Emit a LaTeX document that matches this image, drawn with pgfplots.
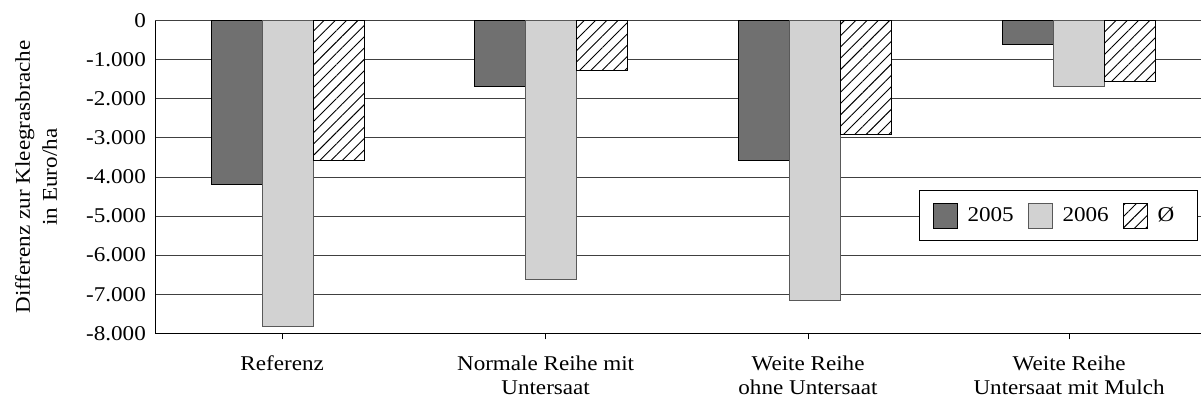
\documentclass[border=0pt]{standalone}
\usepackage{fontspec}
\setmainfont{Liberation Serif}[FakeStretch=1.1]
\usepackage{pgfplots}
\pgfplotsset{compat=1.18}
\usetikzlibrary{patterns.meta}
\definecolor{darkbar}{HTML}{707070}
\definecolor{lightbar}{HTML}{D2D2D2}
\definecolor{gridc}{HTML}{404040}
\begin{document}
\fontsize{21bp}{25bp}\selectfont
\begin{tikzpicture}[x=1bp,y=1bp]
\path[use as bounding box] (0,0) rectangle (1201,401);
\begin{axis}[
  at={(155bp,67.7bp)}, anchor=south west,
  scale only axis, width=1046bp, height=312.6bp,
  xmin=-0.503, xmax=3.463, ymin=-8000, ymax=0,
  axis x line*=bottom, axis y line*=left,
  axis line style={black, line width=1bp},
  xtick={-0.021,0.978,1.973,2.963},
  xticklabels={Referenz, {Normale Reihe mit\\Untersaat}, {Weite Reihe\\ohne Untersaat}, {Weite Reihe\\Untersaat mit Mulch}},
  xticklabel style={align=center, font=\fontsize{21bp}{24.5bp}\selectfont, yshift=-9bp},
  x tick style={black, line width=1bp},
  major tick length=6bp,
  xtick pos=bottom,
  ytick={-8000,-7000,...,0},
  yticklabels={-8.000,-7.000,-6.000,-5.000,-4.000,-3.000,-2.000,-1.000,0},
  y tick style={draw=none},
  yticklabel style={font=\fontsize{21bp}{25bp}\selectfont, xshift=-2bp},
  ymajorgrids, grid style={gridc, line width=1bp},
  ylabel={Differenz zur Kleegrasbrache\\in Euro/ha},
  every axis y label/.style={at={(axis description cs:-0.1136,0.5)}, rotate=90, anchor=center,
    align=center, font=\fontsize{21bp}{27bp}\selectfont},
  ybar, bar width=51bp,
  legend style={at={(0.8638,0.3759)}, anchor=center, draw=black, line width=1bp, fill=white,
    legend columns=3, font=\fontsize{21bp}{25bp}\selectfont,
    inner xsep=13bp, inner ysep=12bp,
    /tikz/every even column/.append style={column sep=4bp},
    nodes={inner xsep=10bp, inner ysep=3bp}},
  legend image code/.code={\draw[#1, line width=0.8bp] (0bp,-12.5bp) rectangle (24bp,12.5bp);},
  clip=false,
]
\addplot[bar shift=-51bp, fill=darkbar, draw=black, line width=1bp] coordinates {(0,-4180) (1,-1690) (2,-3580) (3,-600)};
\addplot[bar shift=0bp, fill=lightbar, draw=black!65, line width=1bp] coordinates {(0,-7830) (1,-6620) (2,-7165) (3,-1690)};
\addplot[bar shift=51bp, fill=white, draw=black, line width=1bp, postaction={pattern={Lines[angle=45,distance=8bp,line width=0.9bp]}}] coordinates {(0,-3580) (1,-1280) (2,-2910) (3,-1545)};
\legend{2005, 2006, Ø}
\end{axis}
\end{tikzpicture}
\end{document}
